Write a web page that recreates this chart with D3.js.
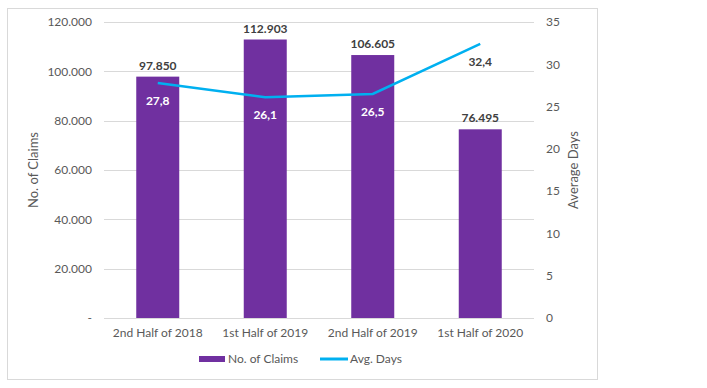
<!DOCTYPE html>
<html>
<head>
<meta charset="utf-8">
<script src="https://cdn.jsdelivr.net/npm/d3@7"></script>
<style>
  body { margin: 0; background: #fff; }
  text { font-family: "Lato", "DejaVu Sans", sans-serif; }
</style>
</head>
<body>
<div id="chart"></div>
<script>
const categories = ['2nd Half of 2018', '1st Half of 2019', '2nd Half of 2019', '1st Half of 2020'];
const claims = [97850, 112903, 106605, 76495];
const avgDays = [27.8, 26.1, 26.5, 32.4];
const leftTicks = [0, 20000, 40000, 60000, 80000, 100000, 120000];
const rightTicks = [0, 5, 10, 15, 20, 25, 30, 35];

const width = 707;
const height = 388;
const margin = { top: 22, right: 173, bottom: 70, left: 104 };
const innerW = width - margin.left - margin.right;
const innerH = height - margin.top - margin.bottom;

const purple = '#7030A0';
const blue = '#00B0F0';
const grey = '#595959';

const fmtClaims = d => d === 0 ? '-' : d3.format(',.0f')(d).replace(/,/g, '.');
const fmtDays = d => d3.format('.1f')(d).replace('.', ',');

const svg = d3.select('#chart')
    .append('svg')
    .attr('width', width)
    .attr('height', height);

svg.append('rect')
    .attr('x', 7.5).attr('y', 8.5)
    .attr('width', 590).attr('height', 371)
    .attr('fill', '#fff')
    .attr('stroke', '#d9d9d9');

const g = svg.append('g')
    .attr('transform', `translate(${margin.left},${margin.top})`);

const x = d3.scaleBand()
    .domain(categories)
    .range([0, innerW])
    .paddingInner(0.6)
    .paddingOuter(0.3);

const yLeft = d3.scaleLinear().domain([0, 120000]).range([innerH, 0]);
const yRight = d3.scaleLinear().domain([0, 35]).range([innerH, 0]);

// gridlines
g.selectAll('.grid')
    .data(leftTicks)
    .enter()
    .append('line')
    .attr('x1', 0).attr('x2', innerW)
    .attr('y1', d => Math.round(yLeft(d)) + 0.5)
    .attr('y2', d => Math.round(yLeft(d)) + 0.5)
    .attr('stroke', '#d9d9d9');

// left axis
const leftAxis = g.append('g')
    .call(d3.axisLeft(yLeft).tickValues(leftTicks).tickFormat(fmtClaims).tickSize(0).tickPadding(12));
leftAxis.select('.domain').remove();
leftAxis.selectAll('text').attr('fill', grey).style('font-size', '12px');

// right axis
const rightAxis = g.append('g')
    .attr('transform', `translate(${innerW},0)`)
    .call(d3.axisRight(yRight).tickValues(rightTicks).tickSize(0).tickPadding(12));
rightAxis.select('.domain').remove();
rightAxis.selectAll('text').attr('fill', grey).style('font-size', '12px');

// x axis
const xAxis = g.append('g')
    .attr('transform', `translate(0,${innerH})`)
    .call(d3.axisBottom(x).tickSize(0).tickPadding(10));
xAxis.select('.domain').remove();
xAxis.selectAll('text').attr('fill', grey).style('font-size', '12px');

// bars
g.selectAll('.bar')
    .data(claims)
    .enter()
    .append('rect')
    .attr('x', (d, i) => x(categories[i]))
    .attr('y', d => yLeft(d))
    .attr('width', x.bandwidth())
    .attr('height', d => innerH - yLeft(d))
    .attr('fill', purple);

g.selectAll('.barLabel')
    .data(claims)
    .enter()
    .append('text')
    .attr('x', (d, i) => x(categories[i]) + x.bandwidth() / 2)
    .attr('y', d => yLeft(d) - 7)
    .attr('text-anchor', 'middle')
    .attr('fill', '#404040')
    .style('font-size', '12px')
    .style('font-weight', 'bold')
    .text(fmtClaims);

// line
const line = d3.line()
    .x((d, i) => x(categories[i]) + x.bandwidth() / 2)
    .y(d => yRight(d));

g.append('path')
    .datum(avgDays)
    .attr('d', line)
    .attr('fill', 'none')
    .attr('stroke', blue)
    .attr('stroke-width', 2.5);

g.selectAll('.lineLabel')
    .data(avgDays)
    .enter()
    .append('text')
    .attr('x', (d, i) => x(categories[i]) + x.bandwidth() / 2)
    .attr('y', d => yRight(d) + 22)
    .attr('text-anchor', 'middle')
    .attr('fill', (d, i) => i === 3 ? '#404040' : '#fff')
    .style('font-size', '12px')
    .style('font-weight', 'bold')
    .text(fmtDays);

// axis titles
svg.append('text')
    .attr('transform', `translate(38,${margin.top + innerH / 2}) rotate(-90)`)
    .attr('text-anchor', 'middle')
    .attr('fill', grey)
    .style('font-size', '13px')
    .text('No. of Claims');

svg.append('text')
    .attr('transform', `translate(578,${margin.top + innerH / 2}) rotate(-90)`)
    .attr('text-anchor', 'middle')
    .attr('fill', grey)
    .style('font-size', '13px')
    .text('Average Days');

// legend
const legend = svg.append('g').attr('transform', 'translate(199,359)');
legend.append('rect')
    .attr('x', 0).attr('y', -3)
    .attr('width', 26).attr('height', 6)
    .attr('fill', purple);
legend.append('text')
    .attr('x', 29).attr('y', 4)
    .attr('fill', grey)
    .style('font-size', '12px')
    .text('No. of Claims');
legend.append('line')
    .attr('x1', 121).attr('x2', 149)
    .attr('y1', 0).attr('y2', 0)
    .attr('stroke', blue)
    .attr('stroke-width', 3);
legend.append('text')
    .attr('x', 151).attr('y', 4)
    .attr('fill', grey)
    .style('font-size', '12px')
    .text('Avg. Days');
</script>
</body>
</html>
